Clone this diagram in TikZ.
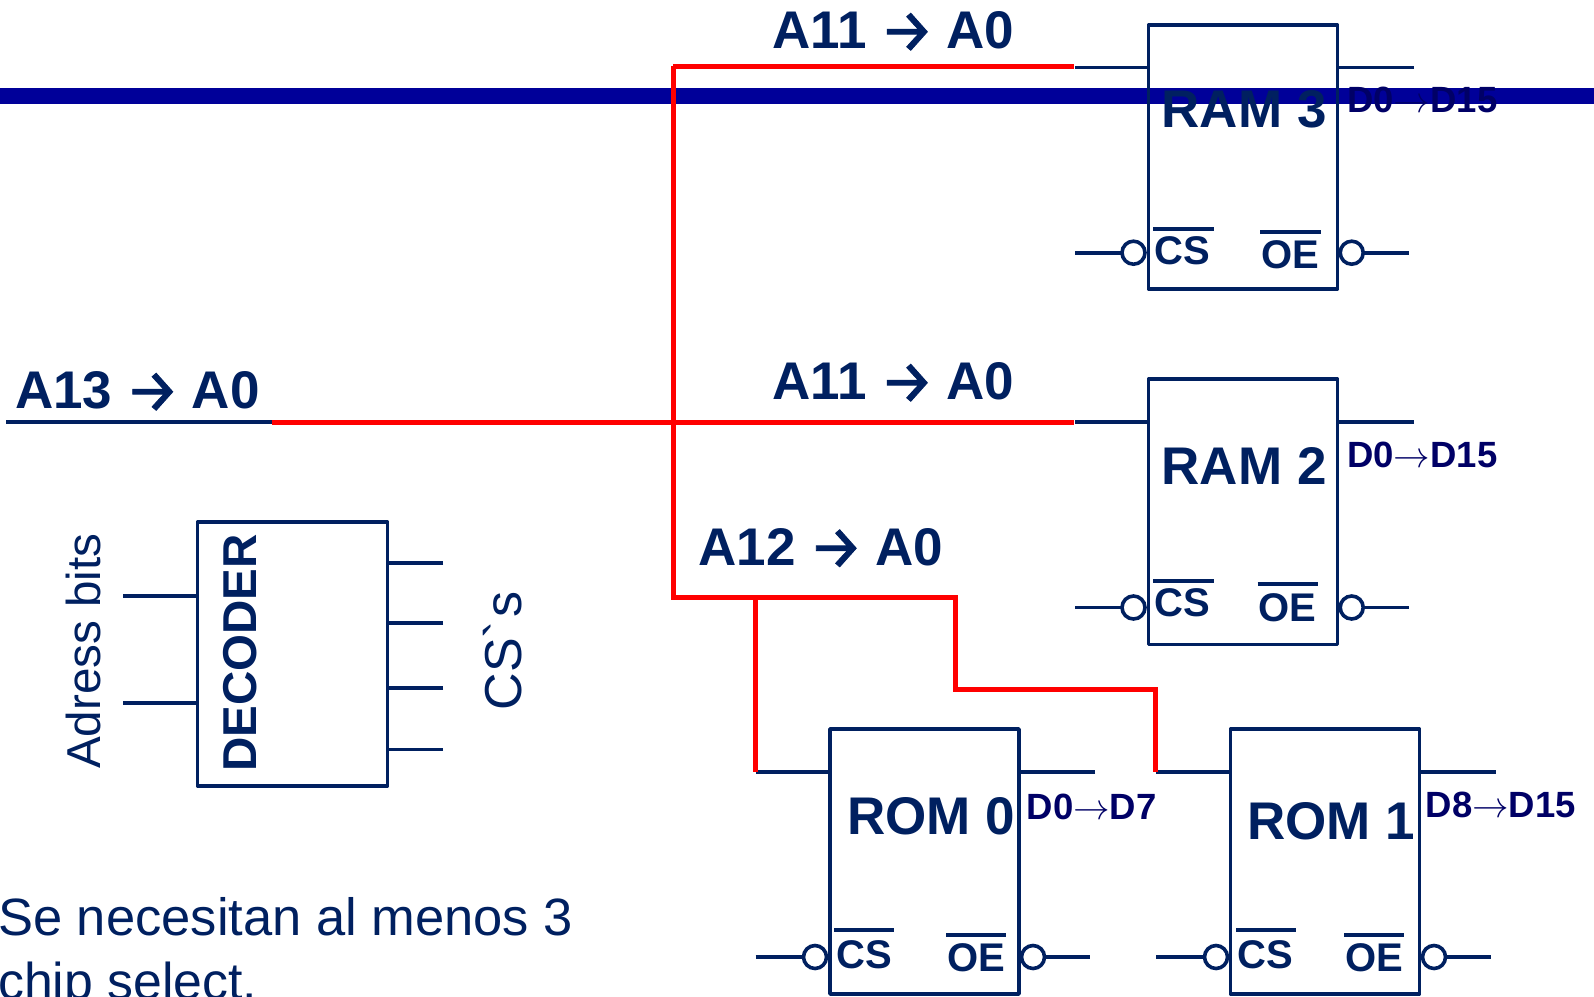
\RequirePackage{fix-cm}
\documentclass[tikz,border=0pt]{standalone}
\usepackage{fontspec}
\setmainfont{Liberation Sans}
\newfontfamily\arrowfont[FakeBold=1.6]{Fira Sans}
\newfontfamily\nomapfont{Liberation Sans}
\definecolor{navy}{HTML}{002060}
\definecolor{dnavy}{HTML}{000066}
\definecolor{busblue}{HTML}{000099}
\newcommand\fs[1]{\fontsize{#1}{#1}\selectfont}
\newcommand\addr[2]{#1\kern13pt\raisebox{-3pt}{\arrowfont\mdseries\fs{60}→}\kern12.5pt #2}
\newcommand\thinarrow{$\rightarrow$}
\tikzset{
  x=1pt,y=-1pt,
  chipbox/.style={draw=navy,line width=3.6pt,line join=round,fill=none,inner sep=0pt,outer sep=0pt,anchor=north west,minimum width=#1},
  wire/.style={draw=navy,line width=3.8pt},
  redwire/.style={draw=red,line width=5pt,line join=miter},
  bubble/.style={circle,draw=navy,line width=3.6pt,inner sep=0pt,outer sep=0pt,minimum size=23pt},
  txt/.style={inner sep=0pt,anchor=base west,text=navy,font=\bfseries},
  dtxt/.style={inner sep=0pt,anchor=base west,text=dnavy,font=\bfseries\fs{36.5}},
  pintxt/.style={inner sep=0pt,anchor=base west,text=navy,font=\bfseries\fs{40}},
  bigt/.style={txt,font=\bfseries\fs{53}},
  addrt/.style={txt,font=\bfseries\fs{53}},
  plain/.style={inner sep=0pt,anchor=base west,text=navy,font=\fs{52.5}},
}
\begin{document}
\begin{tikzpicture}
\useasboundingbox (0,0) rectangle (1594,996);
\clip (0,0) rectangle (1594,996);
% bus
\coordinate (busL) at (0,96);
\coordinate (busR) at (1594,96);
\draw[busblue,line width=16pt] (busL) -- (busR);

% red address net
\coordinate (inS) at (6,422);
\coordinate (j0) at (271.5,422);
\coordinate (j1) at (673,422);
\coordinate (top) at (673,66);
\coordinate (low) at (673,597.5);
\coordinate (r3p) at (1074,66);
\coordinate (r2p) at (1074,422);
\coordinate (r0c) at (755.5,597.5);
\coordinate (r0p) at (755.5,772);
\coordinate (s1) at (955,597.5);
\coordinate (s2) at (955,689.5);
\coordinate (s3) at (1155,689.5);
\coordinate (r1p) at (1155,772);
\draw[wire] (inS) -- (j0);

% RAM 3
\node[chipbox=189pt,minimum height=264pt] (ram3) at (1148.5,25) {};
\coordinate (ram3a) at (1075,67.5);
\coordinate (ram3d) at (1414,67.5);
\draw[wire] (ram3a) -- (ram3a -| ram3.west);
\draw[wire] (ram3d) -- (ram3d -| ram3.east);
\node[bubble] (ram3cs) at (1133.5,252.7) {};
\node[bubble] (ram3oe) at (1351.7,252.7) {};
\coordinate (ram3ce) at (1075,252.7);
\coordinate (ram3oee) at (1409,252.7);
\draw[wire] (ram3ce) -- (ram3cs);
\draw[wire] (ram3oe) -- (ram3oee);
\node[bigt] (ram3t) at (1161.5,127) {RAM 3};
\node[pintxt] (ram3cst) at (1154,264) {CS};
\node[pintxt] (ram3oet) at (1261,268) {OE};
\draw[wire] (1153,229) -- (1213.7,229);
\draw[wire] (1260,232) -- (1321,232);
\node[dtxt] (ram3dt) at (1347,112) {D0\thinarrow D15};

% RAM 2
\node[chipbox=189pt,minimum height=265.5pt] (ram2) at (1148.5,379) {};
\coordinate (ram2a) at (1075,422);
\coordinate (ram2d) at (1414,422);
\draw[wire] (ram2a) -- (ram2a -| ram2.west);
\draw[wire] (ram2d) -- (ram2d -| ram2.east);
\node[bubble] (ram2cs) at (1133.5,607.5) {};
\node[bubble] (ram2oe) at (1351.7,607.5) {};
\coordinate (ram2ce) at (1075,607.5);
\coordinate (ram2oee) at (1409,607.5);
\draw[wire] (ram2ce) -- (ram2cs);
\draw[wire] (ram2oe) -- (ram2oee);
\node[bigt] (ram2t) at (1161.5,484) {RAM 2};
\node[pintxt] (ram2cst) at (1154,616) {CS};
\node[pintxt] (ram2oet) at (1258.5,621) {OE};
\draw[wire] (1153,581) -- (1213.7,581);
\draw[wire] (1257.5,584) -- (1318,584);
\node[dtxt] (ram2dt) at (1347,467.5) {D0\thinarrow D15};

% ROM 0
\node[chipbox=189pt,minimum height=265pt] (rom0) at (830,729) {};
\coordinate (rom0a) at (755.5,772);
\coordinate (rom0d) at (1095,772);
\draw[wire] (rom0a) -- (rom0a -| rom0.west);
\draw[wire] (rom0d) -- (rom0d -| rom0.east);
\node[bubble] (rom0cs) at (815,957) {};
\node[bubble] (rom0oe) at (1033,957) {};
\coordinate (rom0ce) at (755.5,957);
\coordinate (rom0oee) at (1090,957);
\draw[wire] (rom0ce) -- (rom0cs);
\draw[wire] (rom0oe) -- (rom0oee);
\node[bigt] (rom0t) at (847,834) {ROM 0};
\node[pintxt] (rom0cst) at (836.5,968) {CS};
\node[pintxt] (rom0oet) at (947,971) {OE};
\draw[wire] (834,930) -- (894,930);
\draw[wire] (946,935) -- (1006,935);
\node[dtxt] (rom0dt) at (1026.5,819) {D0\thinarrow D7};

% ROM 1
\node[chipbox=189pt,minimum height=265pt] (rom1) at (1230.5,729) {};
\coordinate (rom1a) at (1156,772);
\coordinate (rom1d) at (1495.5,772);
\draw[wire] (rom1a) -- (rom1a -| rom1.west);
\draw[wire] (rom1d) -- (rom1d -| rom1.east);
\node[bubble] (rom1cs) at (1216,957) {};
\node[bubble] (rom1oe) at (1434,957) {};
\coordinate (rom1ce) at (1156,957);
\coordinate (rom1oee) at (1491,957);
\draw[wire] (rom1ce) -- (rom1cs);
\draw[wire] (rom1oe) -- (rom1oee);
\node[bigt] (rom1t) at (1247,839) {ROM 1};
\node[pintxt] (rom1cst) at (1237,968) {CS};
\node[pintxt] (rom1oet) at (1345,971) {OE};
\draw[wire] (1236,930) -- (1296,930);
\draw[wire] (1344,935) -- (1404,935);
\node[dtxt] (rom1dt) at (1425.5,817) {D8\thinarrow D15};

% red wires over the pins
\draw[redwire] (top) -- (r3p);
\draw[redwire] (j0) -- (r2p);
\draw[redwire] (r3p -| top) -- (low) -- (r0c) -- (s1) -- (s2) -- (s3) -- (r1p);
\draw[redwire] (r0c) -- (r0p);

% address labels
\node[addrt] (l1) at (772.5,48.5) {\addr{A11}{A0}};
\node[addrt] (l2) at (772.5,399.5) {\addr{A11}{A0}};
\node[addrt] (l3) at (15,408.5) {\addr{A13}{A0}};
\node[addrt] (l4) at (698.5,565) {\addr{A12}{A0}};

% decoder
\node[chipbox=190pt,minimum height=264pt] (dec) at (197.5,522) {};
\coordinate (da1) at (123,595.7);
\coordinate (da2) at (123,703);
\draw[wire] (da1) -- (da1 -| dec.west);
\draw[wire] (da2) -- (da2 -| dec.west);
\coordinate (do1) at (443,562.7);
\coordinate (do2) at (443,623);
\coordinate (do3) at (443,688);
\coordinate (do4) at (443,749.5);
\draw[wire] (do1) -- (do1 -| dec.east);
\draw[wire] (do2) -- (do2 -| dec.east);
\draw[wire] (do3) -- (do3 -| dec.east);
\draw[wire] (do4) -- (do4 -| dec.east);
\node[txt,font=\bfseries\fs{47.5},rotate=90] (dect) at (256.5,772) {DECODER};
\node[plain,font=\fs{47.6},rotate=90] (adr) at (100.5,769) {Adress bits};
\node[plain,font=\fs{52},rotate=90] (css) at (521,710.5) {\nomapfont CS`\kern3pt s};

% note
\node[plain] (n1) at (-2,935) {Se necesitan al menos 3};
\node[plain,font=\fs{51.8}] (n2) at (-2,999) {chip select.};
\end{tikzpicture}
\end{document}
